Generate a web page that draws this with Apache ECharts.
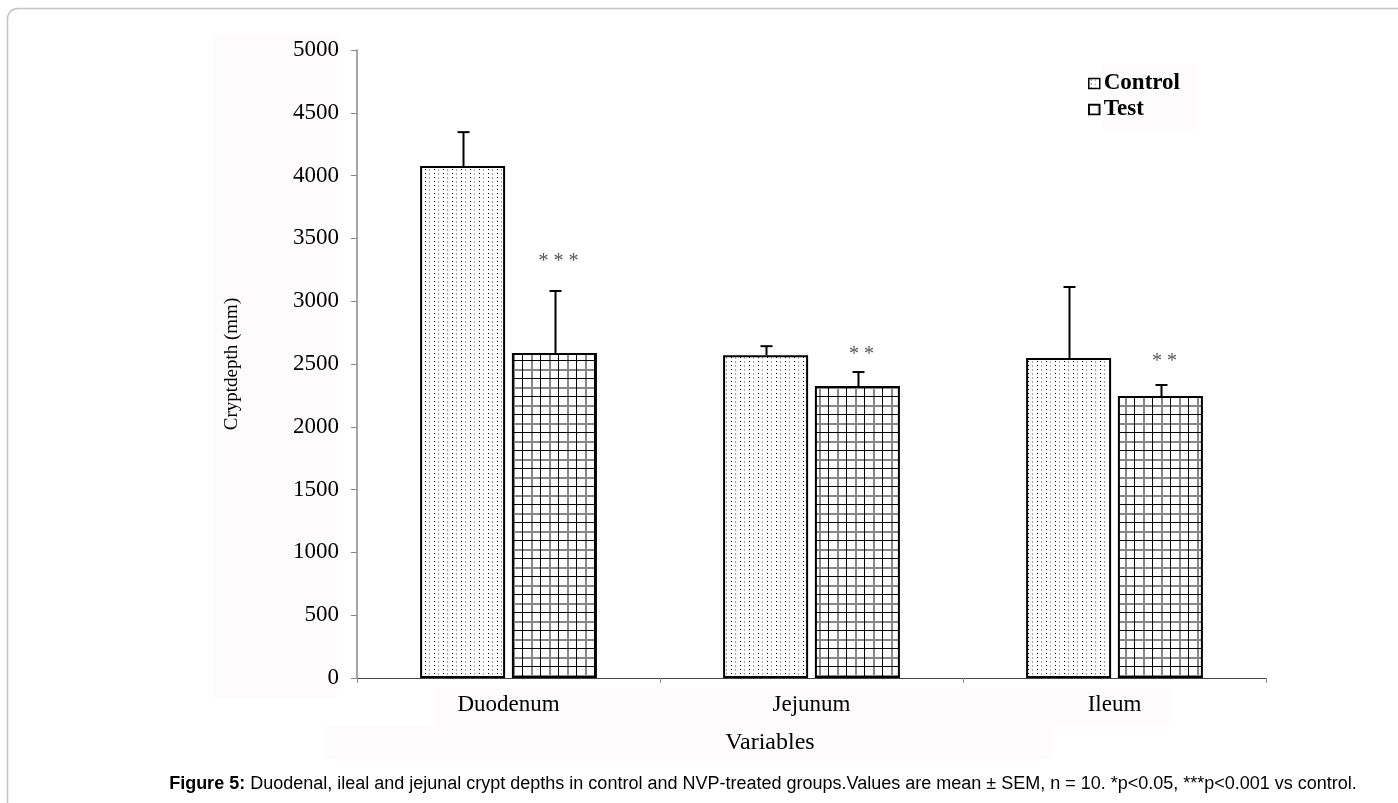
<!DOCTYPE html>
<html>
<head>
<meta charset="utf-8">
<script src="https://cdn.jsdelivr.net/npm/echarts@6/dist/echarts.min.js"></script>
<style>
html,body{margin:0;padding:0;background:#fff;}
#chart{width:1398px;height:803px;}
</style>
</head>
<body>
<div id="chart"></div>
<script>
const categories = ['Duodenum', 'Jejunum', 'Ileum'];
const controlMean = [4076, 2570, 2548];
const controlSem = [270, 72, 565];
const testMean = [2588, 2325, 2245];
const testSem = [493, 111, 88];
const sigLabels = ['* * *', '* *', '* *'];
const sigValues = [3312, 2572, 2516];
const seriesNames = ['Control', 'Test'];
const yAxisName = 'Cryptdepth (mm)';
const xAxisName = 'Variables';
const captionBold = 'Figure 5:';
const captionText = ' Duodenal, ileal and jejunal crypt depths in control and NVP-treated groups.Values are mean \u00b1 SEM, n = 10. *p<0.05, ***p<0.001 vs control.';

function dotPattern() {
  const c = document.createElement('canvas');
  c.width = 9; c.height = 8;
  const ctx = c.getContext('2d');
  ctx.fillStyle = '#fff'; ctx.fillRect(0, 0, 9, 8);
  ctx.fillStyle = '#000';
  ctx.fillRect(2, 1, 1, 1); ctx.fillRect(2, 5, 1, 1);
  ctx.fillStyle = '#aaa';
  ctx.fillRect(6, 1, 1, 2); ctx.fillRect(6, 5, 1, 2);
  return c;
}
function gridPattern() {
  const c = document.createElement('canvas');
  c.width = 18; c.height = 18;
  const ctx = c.getContext('2d');
  ctx.fillStyle = '#fff'; ctx.fillRect(0, 0, 18, 18);
  ctx.fillStyle = '#888';
  ctx.fillRect(9, 0, 2, 18); ctx.fillRect(0, 9, 18, 2);
  ctx.fillStyle = '#000';
  ctx.fillRect(0, 0, 1, 18); ctx.fillRect(0, 0, 18, 1);
  return c;
}
const dotFill = { image: dotPattern(), repeat: 'repeat' };
const gridFill = { image: gridPattern(), repeat: 'repeat' };

const BAR_W = 85, OFF = 46;

function errorSeries(name, means, sems, off) {
  return {
    type: 'custom',
    name: name + ' SEM',
    z: 5,
    silent: true,
    data: means.map((m, i) => [i, m, sems[i]]),
    renderItem: function (params, api) {
      const i = api.value(0), m = api.value(1), s = api.value(2);
      const p0 = api.coord([i, m]);
      const p1 = api.coord([i, m + s]);
      const x = Math.round(p0[0] + off) + 0.5;
      return {
        type: 'group',
        children: [
          { type: 'line', shape: { x1: x, y1: p0[1], x2: x, y2: p1[1] }, style: { stroke: '#000', lineWidth: 2 } },
          { type: 'line', shape: { x1: x - 6, y1: p1[1], x2: x + 6, y2: p1[1] }, style: { stroke: '#000', lineWidth: 2 } }
        ]
      };
    }
  };
}

const chart = echarts.init(document.getElementById('chart'));
const serif = 'Liberation Serif, Times New Roman, serif';
const sans = 'Liberation Sans, Arial, sans-serif';

chart.setOption({
  backgroundColor: '#fff',
  animation: false,
  graphic: [
    { type: 'rect', z: -10, shape: { x: 7.5, y: 8.5, width: 1430, height: 830, r: 10 }, style: { fill: 'none', stroke: '#c4c4c4', lineWidth: 1.5 } },
    { type: 'rect', z: -9, shape: { x: 213, y: 34, width: 124, height: 664 }, style: { fill: '#fdfbfb' } },
    { type: 'rect', z: -9, shape: { x: 435, y: 688, width: 735, height: 38 }, style: { fill: '#fdfbfb' } },
    { type: 'rect', z: -9, shape: { x: 326, y: 726, width: 726, height: 33 }, style: { fill: '#fdfbfb' } },
    { type: 'rect', z: -9, shape: { x: 1101, y: 64, width: 96, height: 65 }, style: { fill: '#fdfbfb' } },
    { type: 'text', x: 770, y: 743, style: { text: xAxisName, font: '24px ' + serif, fill: '#000', align: 'center', verticalAlign: 'middle' } },
    {
      type: 'text', x: 763, y: 784,
      style: {
        text: '{b|' + captionBold + '}' + captionText,
        rich: { b: { fontWeight: 'bold', fontFamily: sans, fontSize: 18, fill: '#000' } },
        font: '18px ' + sans, fill: '#000', align: 'center', verticalAlign: 'middle'
      }
    }
  ],
  legend: {
    orient: 'vertical',
    left: 1083, top: 67,
    icon: 'rect',
    itemWidth: 11, itemHeight: 10, itemGap: 3,
    data: seriesNames,
    textStyle: { fontFamily: serif, fontWeight: 'bold', fontSize: 23, color: '#000', padding: [0, 0, 0, -1] },
    itemStyle: { borderColor: '#000', borderWidth: 1.5 }
  },
  grid: { left: 357, right: 132, top: 50, bottom: 125, containLabel: false },
  xAxis: {
    type: 'category',
    data: categories,
    axisLine: { lineStyle: { color: '#444', width: 1 } },
    axisTick: { show: true, length: 5, lineStyle: { color: '#888' } },
    axisLabel: { fontFamily: serif, fontSize: 23, color: '#000', margin: 15 },
    splitLine: { show: false }
  },
  yAxis: {
    type: 'value',
    min: 0, max: 5000, interval: 500,
    name: yAxisName,
    nameLocation: 'middle',
    nameGap: 115,
    nameTextStyle: { fontFamily: serif, fontSize: 19, color: '#000' },
    axisLine: { show: true, lineStyle: { color: '#888', width: 1.5 } },
    axisTick: { show: true, length: 6, lineStyle: { color: '#888' } },
    axisLabel: { fontFamily: serif, fontSize: 23, color: '#000', margin: 18, formatter: function (v) { return String(v); } },
    splitLine: { show: false }
  },
  series: [
    {
      type: 'bar', name: seriesNames[0], data: controlMean, barWidth: BAR_W, barGap: '8%',
      itemStyle: { color: dotFill, borderColor: '#000', borderWidth: 2 }
    },
    {
      type: 'bar', name: seriesNames[1], data: testMean, barWidth: BAR_W,
      itemStyle: { color: gridFill, borderColor: '#000', borderWidth: 2 }
    },
    errorSeries('Control', controlMean, controlSem, -OFF),
    errorSeries('Test', testMean, testSem, OFF),
    {
      type: 'custom', name: 'sig', z: 6, silent: true,
      data: sigValues.map((v, i) => [i, v]),
      renderItem: function (params, api) {
        const p = api.coord([api.value(0), api.value(1)]);
        return {
          type: 'text',
          style: {
            x: p[0] + OFF + 4, y: p[1], text: sigLabels[params.dataIndex],
            font: '20px ' + serif, fill: '#555', align: 'center', verticalAlign: 'middle'
          }
        };
      }
    }
  ]
});
</script>
</body>
</html>
